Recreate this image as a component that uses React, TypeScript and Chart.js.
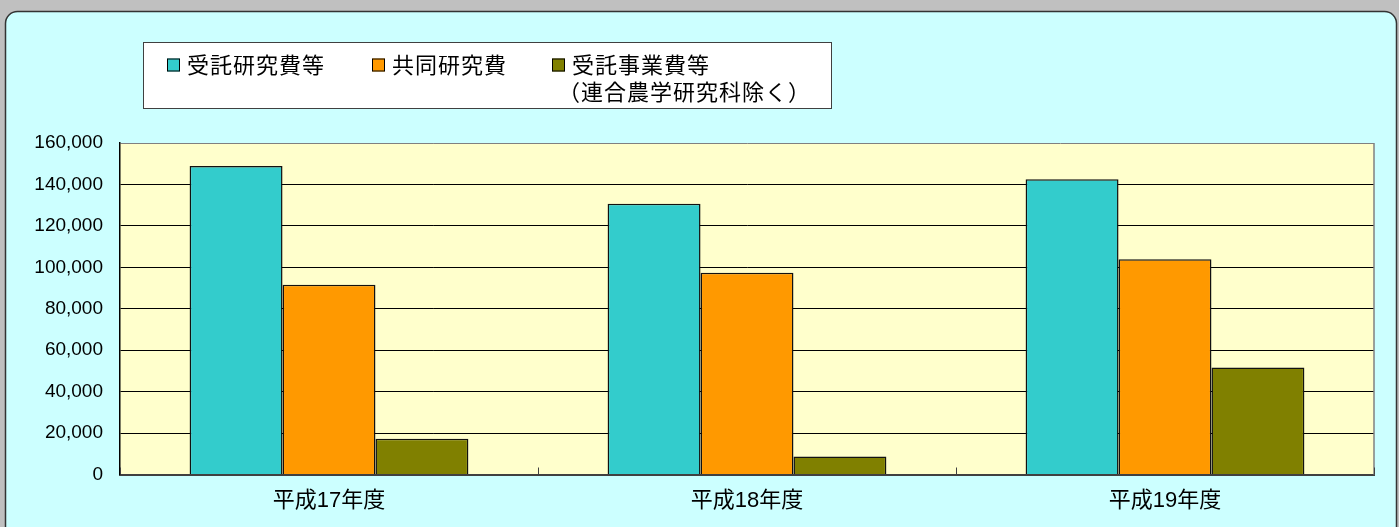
import React, { useEffect, useRef } from "react";
import { Chart, registerables } from "chart.js";

Chart.register(...registerables);

const categories = ["平成17年度", "平成18年度", "平成19年度"];
const seriesNames = ["受託研究費等", "共同研究費", "受託事業費等\n（連合農学研究科除く）"];
const contractResearch = [148900, 130700, 142500];
const jointResearch = [91600, 97400, 103900];
const contractProjects = [17300, 8700, 51700];
const seriesColors = ["#33cccc", "#ff9900", "#808000"];
const yMin = 0;
const yMax = 160000;
const yStep = 20000;

const W = 1399;
const H = 527;

const backgroundPlugin = {
  id: "bgPanel",
  beforeDraw(chart: any) {
    const ctx = chart.ctx;
    ctx.save();
    ctx.fillStyle = "#c0c0c0";
    ctx.fillRect(0, 0, W, H);
    const x = 5.5, y = 11.5, w = 1391, h = 540, r = 12;
    ctx.beginPath();
    ctx.moveTo(x + r, y);
    ctx.lineTo(x + w - r, y);
    ctx.arcTo(x + w, y, x + w, y + r, r);
    ctx.lineTo(x + w, y + h);
    ctx.lineTo(x, y + h);
    ctx.lineTo(x, y + r);
    ctx.arcTo(x, y, x + r, y, r);
    ctx.closePath();
    ctx.fillStyle = "#ccffff";
    ctx.fill();
    ctx.lineWidth = 1.5;
    ctx.strokeStyle = "#333333";
    ctx.stroke();
    const a = chart.chartArea;
    ctx.fillStyle = "#ffffcc";
    ctx.fillRect(a.left, a.top, a.right - a.left, a.bottom - a.top);
    ctx.restore();
  },
  beforeDatasetsDraw(chart: any) {
    const ctx = chart.ctx;
    const a = chart.chartArea;
    ctx.save();
    ctx.strokeStyle = "#808080";
    ctx.lineWidth = 1.5;
    ctx.beginPath();
    ctx.moveTo(a.right, a.top);
    ctx.lineTo(a.right, a.bottom);
    ctx.stroke();
    const xs = chart.scales.x;
    const n = chart.data.labels.length;
    ctx.strokeStyle = "#404040";
    ctx.lineWidth = 1;
    for (let i = 0; i <= n; i++) {
      const px = Math.round(xs.left + (i * (xs.right - xs.left)) / n) + 0.5;
      ctx.beginPath();
      ctx.moveTo(px, a.bottom - 7);
      ctx.lineTo(px, a.bottom);
      ctx.stroke();
    }
    ctx.restore();
  },
};

const legendPlugin = {
  id: "boxLegend",
  afterDraw(chart: any, _args: any, opts: any) {
    const ctx = chart.ctx;
    ctx.save();
    const b = opts.box;
    ctx.fillStyle = "#ffffff";
    ctx.fillRect(b.x, b.y, b.w, b.h);
    ctx.strokeStyle = "#404040";
    ctx.lineWidth = 1;
    ctx.strokeRect(b.x + 0.5, b.y + 0.5, b.w, b.h);
    ctx.font = opts.font;
    (ctx as any).letterSpacing = opts.letterSpacing;
    ctx.textBaseline = "middle";
    ctx.textAlign = "left";
    chart.data.datasets.forEach((ds: any, i: number) => {
      const ix = opts.itemX[i];
      ctx.fillStyle = ds.backgroundColor;
      ctx.fillRect(ix, opts.lineY[0] - 6.5, 13, 13);
      ctx.strokeStyle = "#000";
      ctx.lineWidth = 1;
      ctx.strokeRect(ix + 0.5, opts.lineY[0] - 6, 12, 12);
      ctx.fillStyle = "#000";
      const lines = String(ds.label).split("\n");
      lines.forEach((ln: string, j: number) => {
        const tx = j === 0 ? ix + 20 : ix + opts.secondLineDx;
        ctx.fillText(ln, tx, opts.lineY[j]);
      });
    });
    ctx.restore();
  },
};

export default function App() {
  const ref = useRef<HTMLCanvasElement | null>(null);
  useEffect(() => {
    document.body.style.margin = "0";
    const canvas = ref.current!;
    const chart = new Chart(canvas, {
      type: "bar",
      data: {
        labels: categories,
        datasets: [
          { label: seriesNames[0], data: contractResearch, backgroundColor: seriesColors[0] },
          { label: seriesNames[1], data: jointResearch, backgroundColor: seriesColors[1] },
          { label: seriesNames[2], data: contractProjects, backgroundColor: seriesColors[2] },
        ].map((d) => ({
          ...d,
          borderColor: "#111111",
          borderWidth: 1.5,
          borderSkipped: "bottom",
          categoryPercentage: 0.667,
          barPercentage: 1.0,
        })),
      },
      options: {
        responsive: false,
        animation: false,
        devicePixelRatio: 1,
        layout: { padding: { left: 0, top: 143, right: 25, bottom: 0 } },
        plugins: {
          legend: { display: false },
          tooltip: { enabled: false },
          boxLegend: {
            box: { x: 143, y: 42, w: 688, h: 66 },
            itemX: [167, 372, 552],
            lineY: [65, 92],
            secondLineDx: 6,
            font: '22px "Noto Sans CJK JP"',
            letterSpacing: "1px",
          },
        } as any,
        scales: {
          x: {
            afterFit(scale: any) {
              scale.height = H - 474.5;
            },
            grid: { display: false, drawTicks: false },
            border: { display: true, color: "#404040", width: 2 },
            ticks: {
              color: "#000",
              padding: 13,
              font: { family: '"Liberation Sans", "Noto Sans CJK JP"', size: 22 },
            },
          },
          y: {
            min: yMin,
            max: yMax,
            afterFit(scale: any) {
              scale.width = 120;
            },
            grid: {
              drawTicks: false,
              color: (c: any) => (c.tick && c.tick.value === yMax ? "#808080" : "#000000"),
              lineWidth: 1,
            },
            border: { display: true, color: "#000", width: 1.5 },
            ticks: {
              stepSize: yStep,
              color: "#000",
              padding: 17,
              font: { family: '"Liberation Sans", Arial, sans-serif', size: 19 },
              callback: (v: any) => Number(v).toLocaleString("en-US"),
            },
          },
        },
      },
      plugins: [backgroundPlugin, legendPlugin],
    });
    return () => chart.destroy();
  }, []);
  return <canvas ref={ref} width={W} height={H} style={{ display: "block" }} />;
}
